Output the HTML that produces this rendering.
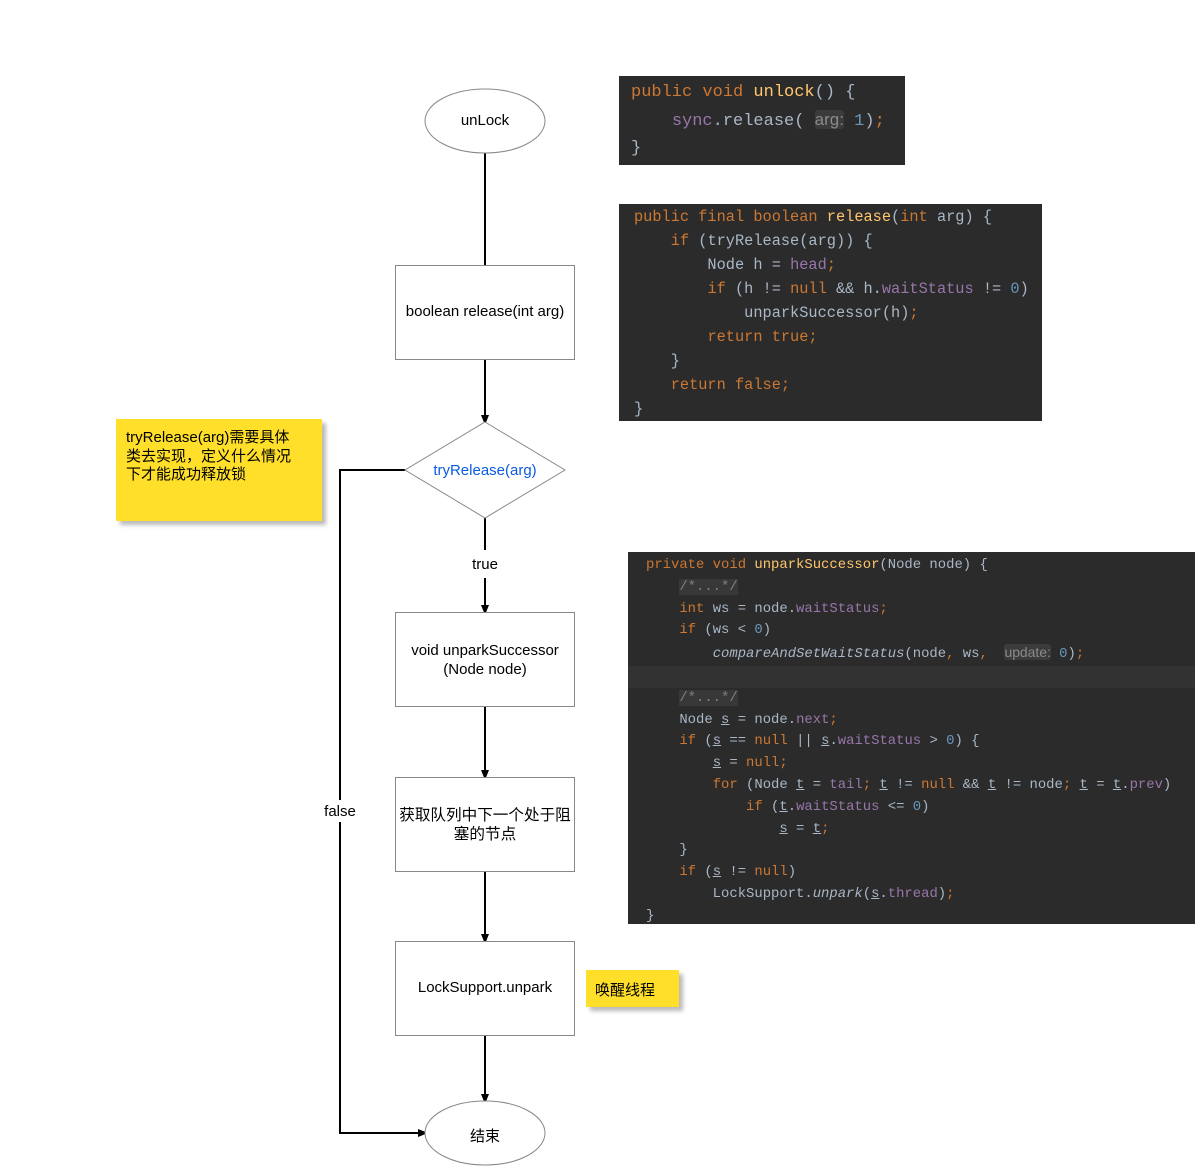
<!DOCTYPE html>
<html><head><meta charset="utf-8"><style>
body{margin:0;width:1195px;height:1167px;background:#fff;position:relative;overflow:hidden;font-family:"Liberation Sans","Noto Sans CJK SC",sans-serif}
.abs{position:absolute}
.code{position:absolute;background:#2b2b2b;font-family:"Liberation Mono",monospace;color:#a9b7c6;white-space:pre;box-sizing:border-box}
.k{color:#cc7832}.f{color:#ffc66d}.p{color:#9876aa}.n{color:#6897bb}.h{background:#3b3b3b;color:#8a8a8a;font-family:"Liberation Sans",sans-serif;border-radius:3px}
.c{color:#808080;background:#383838}
.i{font-style:italic}
.u{text-decoration:underline}
.lbl{position:absolute;font-size:15px;color:#000;text-align:center}
.note{position:absolute;background:#ffdf2a;box-shadow:4px 4px 4px #bbb;font-size:14px;color:#000;box-sizing:border-box}
</style></head><body>
<svg class="abs" style="left:0;top:0" width="1195" height="1167">
<defs><marker id="a" markerWidth="10" markerHeight="10" refX="5" refY="5" orient="auto" markerUnits="userSpaceOnUse"><path d="M0,1 L10,5 L0,9 z" fill="#000"/></marker></defs>
<g stroke="#000" stroke-width="2" fill="none">
<line x1="485" y1="153" x2="485" y2="265"/>
<line x1="485" y1="359" x2="485" y2="420" marker-end="url(#a)"/>
<line x1="485" y1="518" x2="485" y2="550"/>
<line x1="485" y1="578" x2="485" y2="610" marker-end="url(#a)"/>
<line x1="485" y1="706" x2="485" y2="775" marker-end="url(#a)"/>
<line x1="485" y1="871" x2="485" y2="939" marker-end="url(#a)"/>
<line x1="485" y1="1035" x2="485" y2="1099" marker-end="url(#a)"/>
<polyline points="405,470 340,470 340,800"/>
<polyline points="340,822 340,1133 423,1133" marker-end="url(#a)"/>
</g>
<g stroke="#888" stroke-width="1" fill="#fff">
<ellipse cx="485" cy="121" rx="60" ry="32"/>
<rect x="395.5" y="265.5" width="179" height="94"/>
<polygon points="485,422 565,470 485,518 405,470"/>
<rect x="395.5" y="612.5" width="179" height="94"/>
<rect x="395.5" y="777.5" width="179" height="94"/>
<rect x="395.5" y="941.5" width="179" height="94"/>
<ellipse cx="485" cy="1133" rx="60" ry="32"/>
</g>
</svg>
<div class="lbl" style="left:425px;top:112px;width:120px">unLock</div>
<div class="lbl" style="left:395px;top:303px;width:180px">boolean release(int arg)</div>
<div class="lbl" style="left:405px;top:462px;width:160px;color:#0a5ce0">tryRelease(arg)</div>
<div class="lbl" style="left:455px;top:556px;width:60px">true</div>
<div class="lbl" style="left:395px;top:641px;width:180px;line-height:19px">void unparkSuccessor<br>(Node node)</div>
<div class="lbl" style="left:394px;top:806px;width:182px;font-size:15.6px;line-height:19px">获取队列中下一个处于阻塞的节点</div>
<div class="lbl" style="left:395px;top:979px;width:180px">LockSupport.unpark</div>
<div class="lbl" style="left:425px;top:1125px;width:120px">结束</div>
<div class="lbl" style="left:310px;top:803px;width:60px">false</div>
<div class="note" style="left:116px;top:419px;width:206px;height:102px;padding:10px 10px;line-height:18.5px;font-size:15px"><div style="width:177px">tryRelease(arg)需要具体类去实现，定义什么情况下才能成功释放锁</div></div>
<div class="note" style="left:586px;top:970px;width:93px;height:37px;padding:9px 9px;font-size:15px">唤醒线程</div>

<div class="code" style="left:619px;top:76px;width:286px;height:89px;font-size:17px;line-height:27px;padding:3px 0 0 12px"><span class="k">public void </span><span class="f">unlock</span>() {
    <span class="p">sync</span>.release( <span class="h">arg:</span> <span class="n">1</span>)<span class="k">;</span>
}</div>

<div class="code" style="left:619px;top:204px;width:423px;height:217px;font-size:15.3px;line-height:24px;padding:1px 0 0 15px"><span class="k">public final boolean </span><span class="f">release</span>(<span class="k">int </span>arg) {
    <span class="k">if </span>(tryRelease(arg)) {
        Node h = <span class="p">head</span><span class="k">;</span>
        <span class="k">if </span>(h != <span class="k">null </span>&amp;&amp; h.<span class="p">waitStatus </span>!= <span class="n">0</span>)
            unparkSuccessor(h)<span class="k">;</span>
        <span class="k">return true;</span>
    }
    <span class="k">return false;</span>
}</div>

<div class="code" style="left:628px;top:552px;width:567px;height:372px;font-size:13.9px;line-height:21.8px;padding:3px 0 0 18px"><span class="k">private void </span><span class="f">unparkSuccessor</span>(Node node) {
    <span class="c">/*...*/</span>
    <span class="k">int </span>ws = node.<span class="p">waitStatus</span><span class="k">;</span>
    <span class="k">if </span>(ws &lt; <span class="n">0</span>)
        <span class="i">compareAndSetWaitStatus</span>(node<span class="k">, </span>ws<span class="k">, </span> <span class="h">update:</span> <span class="n">0</span>)<span class="k">;</span>
<span style="display:inline-block;width:567px;margin-left:-18px;background:#323232">&nbsp;</span>
    <span class="c">/*...*/</span>
    Node <span class="u">s</span> = node.<span class="p">next</span><span class="k">;</span>
    <span class="k">if </span>(<span class="u">s</span> == <span class="k">null </span>|| <span class="u">s</span>.<span class="p">waitStatus </span>&gt; <span class="n">0</span>) {
        <span class="u">s</span> = <span class="k">null;</span>
        <span class="k">for </span>(Node <span class="u">t</span> = <span class="p">tail</span><span class="k">; </span><span class="u">t</span> != <span class="k">null </span>&amp;&amp; <span class="u">t</span> != node<span class="k">; </span><span class="u">t</span> = <span class="u">t</span>.<span class="p">prev</span>)
            <span class="k">if </span>(<span class="u">t</span>.<span class="p">waitStatus </span>&lt;= <span class="n">0</span>)
                <span class="u">s</span> = <span class="u">t</span><span class="k">;</span>
    }
    <span class="k">if </span>(<span class="u">s</span> != <span class="k">null</span>)
        LockSupport.<span class="i">unpark</span>(<span class="u">s</span>.<span class="p">thread</span>)<span class="k">;</span>
}</div>
</body></html>
